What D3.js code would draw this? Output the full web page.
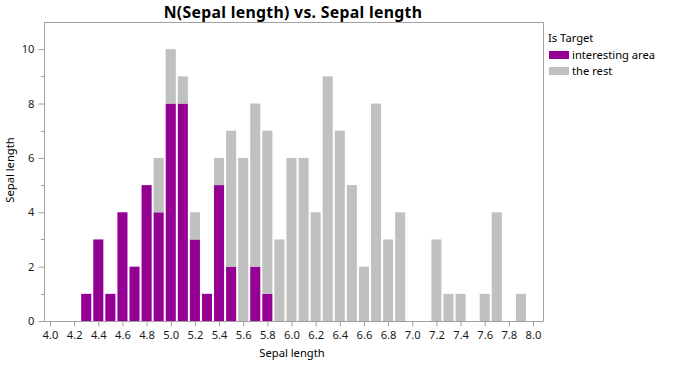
<!DOCTYPE html>
<html><head><meta charset="utf-8">
<script src="https://cdn.jsdelivr.net/npm/d3@7"></script>
<style>body{margin:0;background:#fff}svg{display:block}text{font-family:"Noto Sans","Open Sans",sans-serif}</style>
</head><body>
<svg id="c" width="680" height="366"></svg>
<script>
const sepalLengths = [4.3,4.4,4.5,4.6,4.7,4.8,4.9,5.0,5.1,5.2,5.3,5.4,5.5,5.6,5.7,5.8,5.9,6.0,6.1,6.2,6.3,6.4,6.5,6.6,6.7,6.8,6.9,7.2,7.3,7.4,7.6,7.7,7.9];
const interesting  = [1,3,1,4,2,5,4,8,8,3,1,5,2,0,2,1,0,0,0,0,0,0,0,0,0,0,0,0,0,0,0,0,0];
const theRest      = [0,0,0,0,0,0,2,2,1,1,0,1,5,6,6,6,3,6,6,4,9,7,5,2,8,3,4,3,1,1,1,4,1];
const seriesNames = ["interesting area","the rest"];
const seriesColors = ["#930093","#c0c0c0"];
const xTicks = d3.range(0,21).map(i => +(4.0 + i*0.2).toFixed(1));
const yTicks = [0,2,4,6,8,10];
const yMinor = [1,3,5,7,9];

const svg = d3.select("#c");
const L=44, R=543, T=22, B=321;
const x = d3.scaleLinear().domain([4.0,8.0]).range([50,533]);
const y = d3.scaleLinear().domain([0,11]).range([B,T]);
const gridCol = "#a0a0a0";
const fs = 11.2;

// title
svg.append("text").attr("x",293).attr("y",17.5).attr("text-anchor","middle")
  .attr("font-size",15.8).attr("font-weight","bold").attr("letter-spacing",0.3).attr("fill","#000")
  .text("N(Sepal length) vs. Sepal length");

// frame top/right
svg.append("path").attr("d",`M${L},${T+0.5}H${R+0.5}V${B}`).attr("fill","none").attr("stroke",gridCol);

// bars
const rows = sepalLengths.map((v,i)=>({v, a:interesting[i], b:theRest[i]}));
const bw = x(0.1)-x(0) - 2;
const g = svg.append("g");
rows.forEach(r=>{
  if(r.a>0) g.append("rect").attr("x",x(r.v)-bw/2).attr("width",bw)
    .attr("y",y(r.a)).attr("height",y(0)-y(r.a)).attr("fill",seriesColors[0]);
  if(r.b>0) g.append("rect").attr("x",x(r.v)-bw/2).attr("width",bw)
    .attr("y",y(r.a+r.b)).attr("height",y(r.a)-y(r.a+r.b)).attr("fill",seriesColors[1]);
});

// y axis
const ya = svg.append("g").attr("transform",`translate(${L+0.5},0)`)
  .call(d3.axisLeft(y).tickValues(yTicks).tickSize(6).tickPadding(4).tickFormat(d3.format("d")));
ya.select(".domain").attr("d",`M0,${T}V${B+0.5}`);
svg.append("g").selectAll("line").data(yMinor).join("line")
  .attr("x1",L-3).attr("x2",L).attr("y1",d=>Math.round(y(d))+0.5).attr("y2",d=>Math.round(y(d))+0.5)
  .attr("stroke",gridCol);

// x axis
const xa = svg.append("g").attr("transform",`translate(0,${B+0.5})`)
  .call(d3.axisBottom(x).tickValues(xTicks).tickSize(5).tickPadding(5).tickFormat(d3.format(".1f")));
xa.select(".domain").attr("d",`M${L},0H${R+0.5}`);

[ya,xa].forEach(a=>{
  a.selectAll(".domain").attr("stroke",gridCol);
  a.selectAll(".tick line").attr("stroke",gridCol);
  a.selectAll(".tick text").attr("font-size",fs).attr("fill","#1a1a1a")
   .attr("font-family",'"Noto Sans","Open Sans",sans-serif');
});

// axis titles
svg.append("text").attr("x",292).attr("y",357).attr("text-anchor","middle")
  .attr("font-size",fs).attr("fill","#000").text("Sepal length");
svg.append("text").attr("transform","translate(14,170) rotate(-90)").attr("text-anchor","middle")
  .attr("font-size",fs).attr("fill","#000").text("Sepal length");

// legend
const lg = svg.append("g");
lg.append("text").attr("x",548).attr("y",42).attr("font-size",fs).attr("fill","#000").text("Is Target");
seriesNames.forEach((n,i)=>{
  lg.append("rect").attr("x",549).attr("y",51+i*16).attr("width",20).attr("height",8).attr("fill",seriesColors[i]);
  lg.append("text").attr("x",572).attr("y",59+i*16).attr("font-size",fs).attr("fill","#000").text(n);
});
</script>
</body></html>
